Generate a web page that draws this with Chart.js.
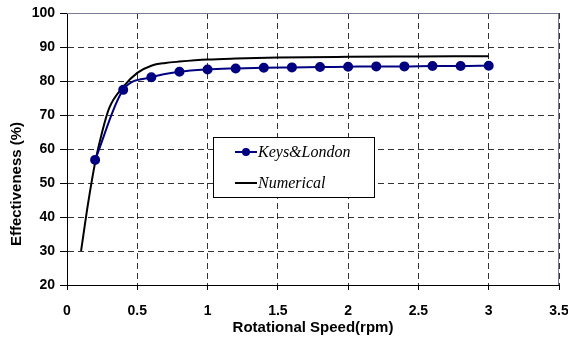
<!DOCTYPE html>
<html>
<head>
<meta charset="utf-8">
<script src="https://cdn.jsdelivr.net/npm/chart.js@4"></script>
<style>
  html, body { margin: 0; padding: 0; background: #fff; }
  #wrap { width: 568px; height: 341px; }
</style>
</head>
<body>
<div id="wrap"><canvas id="effChart" width="568" height="341"></canvas></div>
<script>
// --- data ---
const keysX = [0.2, 0.4, 0.6, 0.8, 1.0, 1.2, 1.4, 1.6, 1.8, 2.0, 2.2, 2.4, 2.6, 2.8, 3.0];
const keysY = [56.8, 77.4, 81.1, 82.7, 83.4, 83.7, 83.9, 84.0, 84.1, 84.2, 84.3, 84.3, 84.4, 84.4, 84.5];

const numX = [0.1, 0.15, 0.2, 0.25, 0.3, 0.4, 0.5, 0.6, 0.7, 0.8, 1.0, 1.2, 1.5, 2.0, 2.5, 3.0];
const numY = [30, 44, 56, 65, 72, 78.3, 82.4, 84.5, 85.3, 85.7, 86.3, 86.6, 86.9, 87.1, 87.2, 87.3];

const xTicks = [0, 0.5, 1, 1.5, 2, 2.5, 3, 3.5];
const yTicks = [20, 30, 40, 50, 60, 70, 80, 90, 100];

const xTitle = "Rotational Speed(rpm)";
const yTitle = "Effectiveness (%)";

const toPoints = (xs, ys) => xs.map((x, i) => ({ x: x, y: ys[i] }));

// legend box drawn inside the plot + y title + plot frame
const extras = {
  id: "extras",
  afterDraw(chart) {
    const c = chart.ctx;
    const a = chart.chartArea;
    c.save();

    // frame (top / right)
    c.strokeStyle = "#7a7a99";
    c.lineWidth = 1;
    c.beginPath();
    c.moveTo(a.left, a.top + 0.5);
    c.lineTo(a.right - 0.5, a.top + 0.5);
    c.lineTo(a.right - 0.5, a.bottom);
    c.stroke();

    // y title
    c.font = "bold 15px 'Liberation Sans', Arial";
    c.fillStyle = "#000";
    c.textAlign = "center";
    c.textBaseline = "middle";
    c.translate(17, 184);
    c.rotate(-Math.PI / 2);
    c.fillText(yTitle, 0, 0);
    c.setTransform(1, 0, 0, 1, 0, 0);

    // legend
    const bx = 213, by = 137, bw = 161, bh = 60;
    c.fillStyle = "#fff";
    c.fillRect(bx, by, bw, bh);
    c.strokeStyle = "#000";
    c.strokeRect(bx + 0.5, by + 0.5, bw, bh);
    c.font = "italic 16px 'Liberation Serif', 'Times New Roman'";
    c.textAlign = "left";
    chart.data.datasets.forEach((ds, i) => {
      const y = 152 + i * 31;
      c.strokeStyle = ds.borderColor;
      c.lineWidth = 2;
      c.beginPath();
      c.moveTo(235, y);
      c.lineTo(257, y);
      c.stroke();
      if (ds.pointRadius > 0) {
        c.fillStyle = ds.pointBackgroundColor;
        c.beginPath();
        c.arc(246, y, ds.pointRadius, 0, Math.PI * 2);
        c.fill();
      }
      c.fillStyle = "#000";
      c.fillText(ds.label, 258, y + 1);
    });
    c.restore();
  }
};

const tickFont = { family: "'Liberation Sans', Arial", size: 14, weight: "bold" };
const titleFont = { family: "'Liberation Sans', Arial", size: 15, weight: "bold" };

new Chart(document.getElementById("effChart").getContext("2d"), {
  type: "line",
  data: {
    datasets: [{
      label: "Keys&London",
      data: toPoints(keysX, keysY),
      borderColor: "#000080",
      backgroundColor: "#000080",
      pointBackgroundColor: "#000080",
      pointBorderColor: "#000080",
      pointRadius: 4,
      borderWidth: 2,
      cubicInterpolationMode: "monotone"
    }, {
      label: "Numerical",
      data: toPoints(numX, numY),
      borderColor: "#000",
      backgroundColor: "#000",
      pointRadius: 0,
      borderWidth: 2,
      cubicInterpolationMode: "monotone"
    }]
  },
  options: {
    responsive: false,
    animation: false,
    layout: { padding: { top: 13, right: 9, left: 0, bottom: 0 } },
    plugins: {
      legend: { display: false },
      tooltip: { enabled: false }
    },
    scales: {
      x: {
        type: "linear",
        min: 0,
        max: 3.5,
        afterBuildTicks: s => { s.ticks = xTicks.map(v => ({ value: v })); },
        afterFit: s => { s.height = 56; s.paddingLeft = 0; s.paddingRight = 0; },
        ticks: { font: tickFont, color: "#000", padding: 13, maxRotation: 0, callback: v => String(v) },
        grid: {
          color: "#333",
          lineWidth: 1,
          tickBorderDash: [],
          tickColor: "#000",
          tickLength: 5
        },
        border: { display: true, color: "#000", width: 1, dash: [6, 4] },
        title: {
          display: true,
          text: xTitle,
          font: titleFont,
          color: "#000",
          padding: { top: 0, bottom: 4 }
        }
      },
      y: {
        min: 20,
        max: 100,
        afterBuildTicks: s => { s.ticks = yTicks.map(v => ({ value: v })); },
        afterFit: s => { s.width = 67; s.paddingTop = 0; s.paddingBottom = 0; },
        ticks: { font: tickFont, color: "#000", padding: 5 },
        grid: {
          color: "#333",
          lineWidth: 1,
          tickBorderDash: [],
          tickColor: "#000",
          tickLength: 7
        },
        border: { display: true, color: "#000", width: 1, dash: [6, 4] }
      }
    }
  },
  plugins: [extras]
});
</script>
</body>
</html>
